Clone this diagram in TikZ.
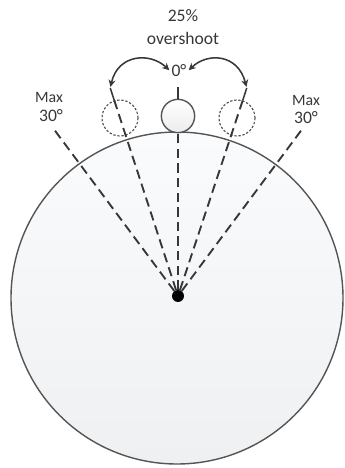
\documentclass[tikz,border=0pt]{standalone}
\usepackage{fontspec}
\setmainfont{Carlito}
\usetikzlibrary{arrows.meta,calc}

\definecolor{rimgray}{RGB}{85,85,85}
\definecolor{inkgray}{RGB}{55,55,55}
\definecolor{disctop}{RGB}{250,251,253}
\definecolor{discbot}{RGB}{239,240,241}
\definecolor{ballgray}{RGB}{236,236,236}

\begin{document}
\begin{tikzpicture}[
		x=0.03cm, y=0.03cm,
		>={Stealth[length=6pt,width=6pt]},
		ray/.style={line width=1.6pt, inkgray, dash pattern=on 8pt off 4.5pt},
		tick/.style={line width=1.3pt, inkgray},
		swing/.style={<->, line width=1.3pt, inkgray, shorten >=1pt, shorten <=1pt},
		ghost/.style={circle, draw=rimgray, line width=1pt, dash pattern=on 2pt off 1.5pt,
			minimum size=1.08cm, inner sep=0pt},
		lbl/.style={text=inkgray, font=\fontsize{15}{19.5}\selectfont},
		small/.style={text=inkgray, font=\fontsize{13.5}{15}\selectfont},
	]
	\useasboundingbox (0,0) rectangle (345,468);

	% ---------- disc ----------
	\shade[top color=disctop, bottom color=discbot, draw=rimgray, line width=1.2pt]
		(177,170) circle (166);

	% ---------- hub, ball and ghost positions ----------
	\node[circle, fill=black, minimum size=0.36cm, inner sep=0pt] (hub) at (178,172) {};
	\node[circle, draw=rimgray, line width=1.2pt, top color=white, bottom color=ballgray,
		minimum size=1.0cm, inner sep=0pt] (ball) at (178,352) {};
	\node[ghost] (ghostL) at (120,350) {};
	\node[ghost] (ghostR) at (237,350) {};

	% ---------- rays ----------
	\coordinate (maxL) at (53,340);
	\coordinate (maxR) at (303,340);
	\draw[ray] (hub) -- (maxL);
	\draw[ray] (hub) -- (maxR);
	\draw[ray] (hub) -- (ball.south);
	\draw[ray] (hub) -- (ghostL.108);
	\draw[ray] (hub) -- (ghostR.72);

	\draw[tick] (ball.north) -- ++(0,12) coordinate (tickM);
	\draw[tick] (ghostL.108) -- ++(108:13) coordinate (tickL);
	\draw[tick] (ghostR.72) -- ++(72:13) coordinate (tickR);

	% ---------- labels ----------
	\node[lbl, inner sep=1pt] (zero) at (179,397) {0°};
	\node[lbl, align=center] (note) at (183,441) {25\%\\overshoot};
	\node[small] (maxLtxt) at (49,371) {Max};
	\node[lbl] (maxLdeg) at (51,352) {30°};
	\node[small] (maxRtxt) at (306,368) {Max};
	\node[lbl] (maxRdeg) at (306,350) {30°};

	% ---------- overshoot arrows ----------
	\draw[swing] (zero.west) .. controls (150,416) and (118,414) .. (tickL);
	\draw[swing] (zero.east) .. controls (208,416) and (238,414) .. (tickR);

\end{tikzpicture}
\end{document}
